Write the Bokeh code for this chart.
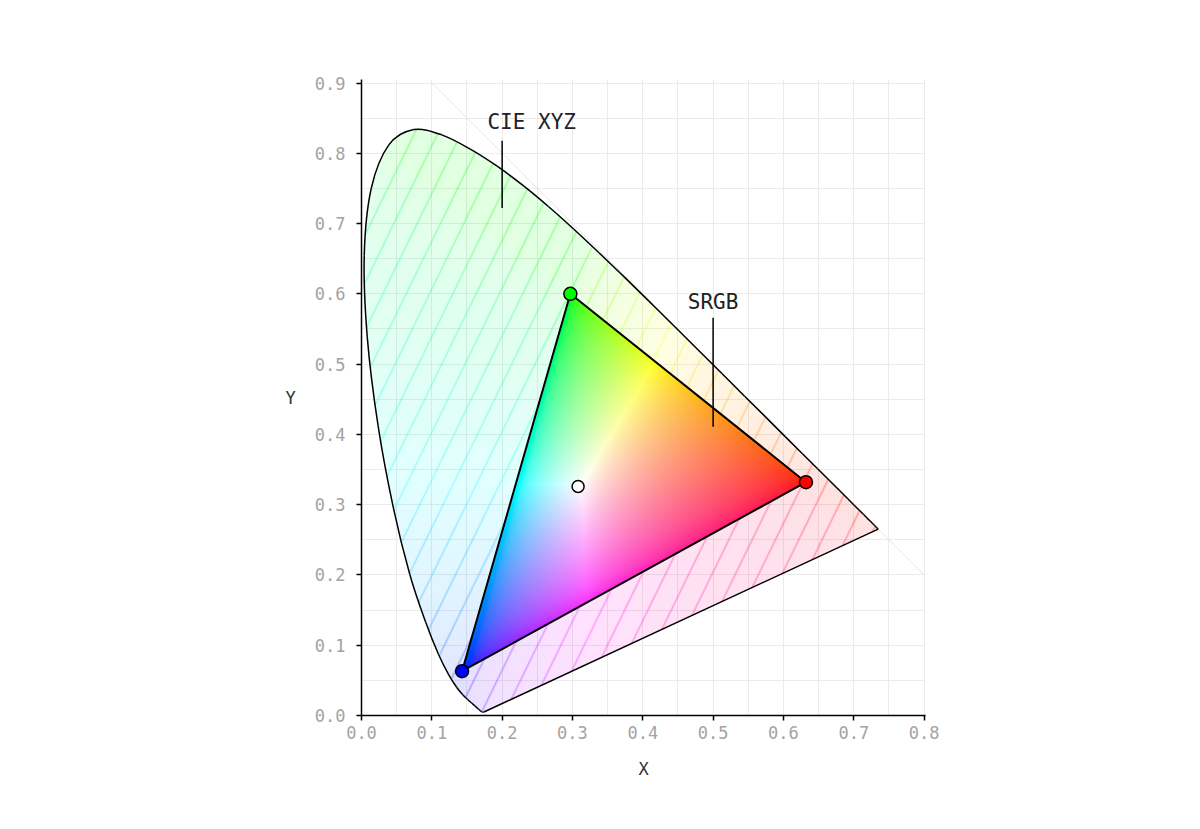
import numpy as np
from bokeh.plotting import figure
from bokeh.models import FixedTicker, PrintfTickFormatter
from bokeh.embed import file_html
from bokeh.resources import INLINE
from bokeh.core.properties import value

# ---------------- data ----------------
# CIE 1931 2-degree spectral locus (chromaticity x, y)
wavelength = [380, 385, 390, 395, 400, 405, 410, 415, 420, 425, 430, 435, 440, 445,
              450, 455, 460, 465, 470, 475, 480, 485, 490, 495, 500, 505, 510, 515,
              520, 525, 530, 535, 540, 545, 550, 555, 560, 565, 570, 575, 580, 585,
              590, 595, 600, 605, 610, 615, 620, 625, 630, 635, 640, 645, 650, 655,
              660, 665, 670, 680, 690, 700]
locus_x = [0.1741, 0.1740, 0.1738, 0.1736, 0.1733, 0.1730, 0.1726, 0.1721, 0.1714, 0.1703,
           0.1689, 0.1669, 0.1644, 0.1611, 0.1566, 0.1510, 0.1440, 0.1355, 0.1241, 0.1096,
           0.0913, 0.0687, 0.0454, 0.0235, 0.0082, 0.0039, 0.0139, 0.0389, 0.0743, 0.1142,
           0.1547, 0.1929, 0.2296, 0.2658, 0.3016, 0.3373, 0.3731, 0.4087, 0.4441, 0.4788,
           0.5125, 0.5448, 0.5752, 0.6029, 0.6270, 0.6482, 0.6658, 0.6801, 0.6915, 0.7006,
           0.7079, 0.7140, 0.7190, 0.7230, 0.7260, 0.7283, 0.7300, 0.7311, 0.7320, 0.7334,
           0.7344, 0.7347]
locus_y = [0.0050, 0.0050, 0.0049, 0.0049, 0.0048, 0.0048, 0.0048, 0.0048, 0.0051, 0.0058,
           0.0069, 0.0086, 0.0109, 0.0138, 0.0177, 0.0227, 0.0297, 0.0399, 0.0578, 0.0868,
           0.1327, 0.2007, 0.2950, 0.4127, 0.5384, 0.6548, 0.7502, 0.8120, 0.8338, 0.8262,
           0.8059, 0.7816, 0.7543, 0.7243, 0.6923, 0.6589, 0.6245, 0.5896, 0.5547, 0.5202,
           0.4866, 0.4544, 0.4242, 0.3965, 0.3725, 0.3514, 0.3340, 0.3197, 0.3083, 0.2993,
           0.2920, 0.2859, 0.2809, 0.2770, 0.2740, 0.2717, 0.2700, 0.2689, 0.2680, 0.2666,
           0.2656, 0.2653]

# sRGB primaries and white point
primary_names = ["R", "G", "B"]
primary_x = [0.632, 0.297, 0.143]
primary_y = [0.332, 0.600, 0.063]
primary_color = ["#ff0000", "#00ff00", "#0000ff"]
white_x = [0.308]
white_y = [0.326]

# annotations
annot_text = ["CIE XYZ", "SRGB"]
annot_x = [0.242, 0.5]
annot_y = [0.844, 0.589]
leader_x = [0.2, 0.5]
leader_y0 = [0.818, 0.566]
leader_y1 = [0.722, 0.411]

# reference line x + y = 1
diag_x = [0.1, 0.8]
diag_y = [0.9, 0.2]

x_ticks = [0.0, 0.1, 0.2, 0.3, 0.4, 0.5, 0.6, 0.7, 0.8]
y_ticks = [0.0, 0.1, 0.2, 0.3, 0.4, 0.5, 0.6, 0.7, 0.8, 0.9]
x_minor = [0.05, 0.15, 0.25, 0.35, 0.45, 0.55, 0.65, 0.75]
y_minor = [0.05, 0.15, 0.25, 0.35, 0.45, 0.55, 0.65, 0.75, 0.85]

X_MAX, Y_MAX = 0.802, 0.905
FRAME_W, FRAME_H = 564, 636
FIG_W, FIG_H = 1184, 813
BORDER_LEFT, BORDER_TOP = 361, 79
BORDER_RIGHT = FIG_W - BORDER_LEFT - FRAME_W
BORDER_BOTTOM = FIG_H - BORDER_TOP - FRAME_H

# ---------------- smooth locus (Catmull-Rom -> cubic Bezier) ----------------
P = np.column_stack([locus_x, locus_y])
Pext = np.vstack([P[0], P, P[-1]])
seg_p0 = Pext[1:-2]
seg_p1 = Pext[2:-1]
seg_c0 = seg_p0 + (Pext[2:-1] - Pext[0:-3]) / 6.0
seg_c1 = seg_p1 - (Pext[3:] - Pext[1:-2]) / 6.0

tt = np.linspace(0, 1, 12)[:-1][:, None, None]
samp = ((1 - tt) ** 3 * seg_p0 + 3 * (1 - tt) ** 2 * tt * seg_c0
        + 3 * (1 - tt) * tt ** 2 * seg_c1 + tt ** 3 * seg_p1)
samp = samp.transpose(1, 0, 2).reshape(-1, 2)
outline = np.vstack([samp, P[-1]])

# ---------------- colour field ----------------
def inside_polygon(X, Y, px, py):
    inside = np.zeros(X.shape, dtype=bool)
    n = len(px)
    for k in range(n):
        x1, y1 = px[k], py[k]
        x2, y2 = px[(k + 1) % n], py[(k + 1) % n]
        if y1 == y2:
            continue
        cond = (y1 > Y) != (y2 > Y)
        xc = (x2 - x1) * (Y - y1) / (y2 - y1) + x1
        inside ^= cond & (X < xc)
    return inside

I, J = np.meshgrid(np.arange(FRAME_W), np.arange(FRAME_H))
CX = (I + 0.5) * X_MAX / FRAME_W
CY = (J + 0.5) * Y_MAX / FRAME_H

in_locus = inside_polygon(CX, CY, outline[:, 0], outline[:, 1])
in_tri = inside_polygon(CX, CY, np.array(primary_x), np.array(primary_y))

Ysafe = np.maximum(CY, 1e-4)
XX = CX / Ysafe
ZZ = (1 - CX - CY) / Ysafe
R = 3.2406 * XX - 1.5372 - 0.4986 * ZZ
G = -0.9689 * XX + 1.8758 + 0.0415 * ZZ
B = 0.0557 * XX - 0.2040 + 1.0570 * ZZ
rgb = np.clip(np.stack([R, G, B], axis=-1), 0, None)
rgb = rgb / np.maximum(np.max(rgb, axis=-1, keepdims=True), 1e-9)
rgb = np.where(rgb <= 0.0031308, 12.92 * rgb, 1.055 * np.power(rgb, 1 / 2.4) - 0.055)
rgb = np.clip(rgb, 0, 1)

# hatch in screen space
page_x = BORDER_LEFT + I + 0.5
page_y = BORDER_TOP + FRAME_H - (J + 0.5)
spacing = 23.3
h = page_x - 390 - 0.488 * (230 - page_y)
hm = np.mod(h + spacing / 2, spacing) - spacing / 2
dist = np.abs(hm) * 0.899
hatch = np.clip(1.1 - dist, 0, 1)

alpha = np.where(in_locus, 0.12 + (0.48 - 0.12) * hatch, 0.0)
alpha = np.where(in_tri, 1.0, alpha)

img = np.zeros((FRAME_H, FRAME_W, 4), dtype=np.uint8)
img[..., :3] = (rgb * 255).astype(np.uint8)
img[..., 3] = (alpha * 255).astype(np.uint8)
img32 = img.view(dtype=np.uint32).reshape((FRAME_H, FRAME_W))

# ---------------- figure ----------------
p = figure(width=FIG_W, height=FIG_H, x_range=(0, X_MAX), y_range=(0, Y_MAX),
           output_backend="svg", toolbar_location=None,
           min_border_left=BORDER_LEFT, min_border_right=BORDER_RIGHT,
           min_border_top=BORDER_TOP, min_border_bottom=BORDER_BOTTOM)
p.outline_line_color = None
p.background_fill_color = "white"
p.border_fill_color = "white"

MONO = "DejaVu Sans Mono"
for ax, ticks, minor, label in ((p.xaxis[0], x_ticks, x_minor, "X"),
                                (p.yaxis[0], y_ticks, y_minor, "Y")):
    ax.ticker = FixedTicker(ticks=ticks, minor_ticks=minor)
    ax.formatter = PrintfTickFormatter(format="%.1f")
    ax.axis_label = label
    ax.axis_label_text_font = MONO
    ax.axis_label_text_font_size = "17px"
    ax.axis_label_text_font_style = "normal"
    ax.axis_label_text_color = "#333333"
    ax.major_label_text_font = MONO
    ax.major_label_text_font_size = "17px"
    ax.major_label_text_color = "#a3a3a3"
    ax.axis_line_color = "black"
    ax.axis_line_width = 1.5
    ax.major_tick_line_color = "black"
    ax.major_tick_line_width = 1.5
    ax.major_tick_out = 5
    ax.major_tick_in = 0
    ax.minor_tick_out = 0
    ax.minor_tick_in = 0
    ax.minor_tick_line_color = None

p.xaxis[0].major_label_standoff = 5
p.xaxis[0].axis_label_standoff = 17
p.yaxis[0].major_label_standoff = 11
p.yaxis[0].axis_label_standoff = 16
p.yaxis[0].axis_label_orientation = "horizontal"

for g in (p.xgrid[0], p.ygrid[0]):
    g.grid_line_color = "#ebebeb"
    g.grid_line_width = 1
    g.minor_grid_line_color = "#ebebeb"
    g.minor_grid_line_width = 1

p.line(diag_x, diag_y, line_color="#e3e3e3", line_width=1)

p.image_rgba(image=[img32], x=0, y=0, dw=X_MAX, dh=Y_MAX)

# spectral locus outline (smooth) + purple line
p.bezier(x0=seg_p0[:, 0], y0=seg_p0[:, 1], x1=seg_p1[:, 0], y1=seg_p1[:, 1],
         cx0=seg_c0[:, 0], cy0=seg_c0[:, 1], cx1=seg_c1[:, 0], cy1=seg_c1[:, 1],
         line_color="black", line_width=1.5)
p.line([locus_x[-1], locus_x[0]], [locus_y[-1], locus_y[0]],
       line_color="black", line_width=1.5)

p.patch(primary_x, primary_y, fill_color=None, line_color="black", line_width=2)

p.segment(x0=leader_x, y0=leader_y0, x1=leader_x, y1=leader_y1,
          line_color="black", line_width=1.5)
p.text(x=annot_x, y=annot_y, text=annot_text, text_font=value(MONO),
       text_font_size="21px", text_color="#222222",
       text_align="center", text_baseline="middle")

p.scatter(primary_x, primary_y, size=13, fill_color=primary_color,
          line_color="black", line_width=1.5)
p.scatter(white_x, white_y, size=12, fill_color="white",
          line_color="black", line_width=1.5)

open("out.html", "w").write(file_html(p, INLINE))
